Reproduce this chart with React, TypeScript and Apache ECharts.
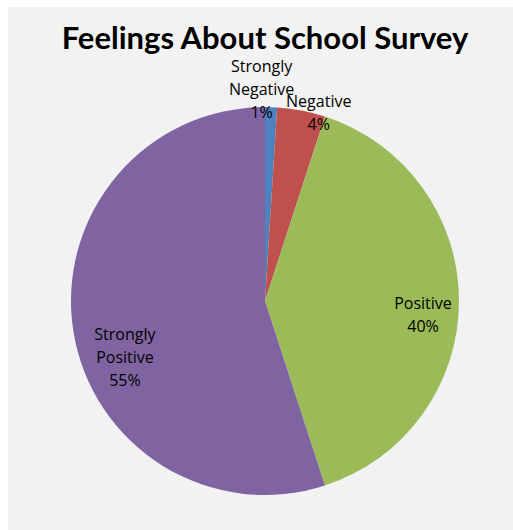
import React, { useEffect, useRef } from 'react';
import * as echarts from 'echarts';

const titleText = 'Feelings About School Survey';
const categories = ['Strongly Negative', 'Negative', 'Positive', 'Strongly Positive'];
const values = [1, 4, 40, 55];
const colors = ['#4f81bd', '#c0504d', '#9bbb59', '#8064a2'];

export default function App() {
  const ref = useRef<HTMLDivElement>(null);
  useEffect(() => {
    const chart = echarts.init(ref.current!, null, { renderer: 'svg' });
    const R = 194;
    const center = [257, 294];
    const fmt = (p: any) => `${String(p.name).replace(' ', '\n')}\n${p.value}%`;
    const labelStyle = {
      color: '#000',
      fontFamily: 'Open Sans',
      fontSize: 16,
      lineHeight: 23,
      formatter: fmt,
    };
    const mainData = categories.map((name, i) => ({
      name,
      value: values[i],
      itemStyle: { color: colors[i] },
    }));
    const labelData = (show: number[]) =>
      categories.map((name, i) => ({
        name,
        value: values[i],
        label: { show: show.includes(i) },
      }));
    const innerAdj: Record<number, any> = { 2: { dy: 13 }, 3: { dx: 16, dy: 31 } };
    const outerAdj: Record<number, any> = { 0: { dx: -10 }, 1: { dx: 14, dy: 20 } };

    chart.setOption({
      animation: false,
      title: {
        text: titleText,
        left: 257,
        top: 14,
        padding: 0,
        textAlign: 'center',
        textStyle: { fontFamily: 'Lato', fontWeight: 'bold', fontSize: 31, color: '#000' },
      },
      series: [
        {
          type: 'pie',
          center,
          radius: [0, R],
          startAngle: 90,
          clockwise: true,
          avoidLabelOverlap: false,
          silent: true,
          label: { show: false },
          labelLine: { show: false },
          itemStyle: { borderWidth: 0 },
          emphasis: { disabled: true },
          data: mainData,
        },
        {
          type: 'pie',
          center,
          radius: [116, R],
          startAngle: 90,
          clockwise: true,
          avoidLabelOverlap: false,
          silent: true,
          itemStyle: { color: 'rgba(0,0,0,0)', borderWidth: 0 },
          label: { show: true, position: 'inside', ...labelStyle },
          labelLine: { show: false },
          emphasis: { disabled: true },
          labelLayout: (p: any) => innerAdj[p.dataIndex] || {},
          data: labelData([2, 3]),
        },
        {
          type: 'pie',
          center,
          radius: [R, 224],
          startAngle: 90,
          clockwise: true,
          avoidLabelOverlap: false,
          silent: true,
          itemStyle: { color: 'rgba(0,0,0,0)', borderWidth: 0 },
          label: { show: true, position: 'inside', ...labelStyle },
          labelLine: { show: false },
          emphasis: { disabled: true },
          labelLayout: (p: any) => outerAdj[p.dataIndex] || {},
          data: labelData([0, 1]),
        },
      ],
    });
    return () => chart.dispose();
  }, []);
  return (
    <div
      ref={ref}
      style={{
        position: 'absolute',
        left: 8,
        top: 7,
        width: 505,
        height: 523,
        background: '#f2f2f2',
      }}
    />
  );
}
